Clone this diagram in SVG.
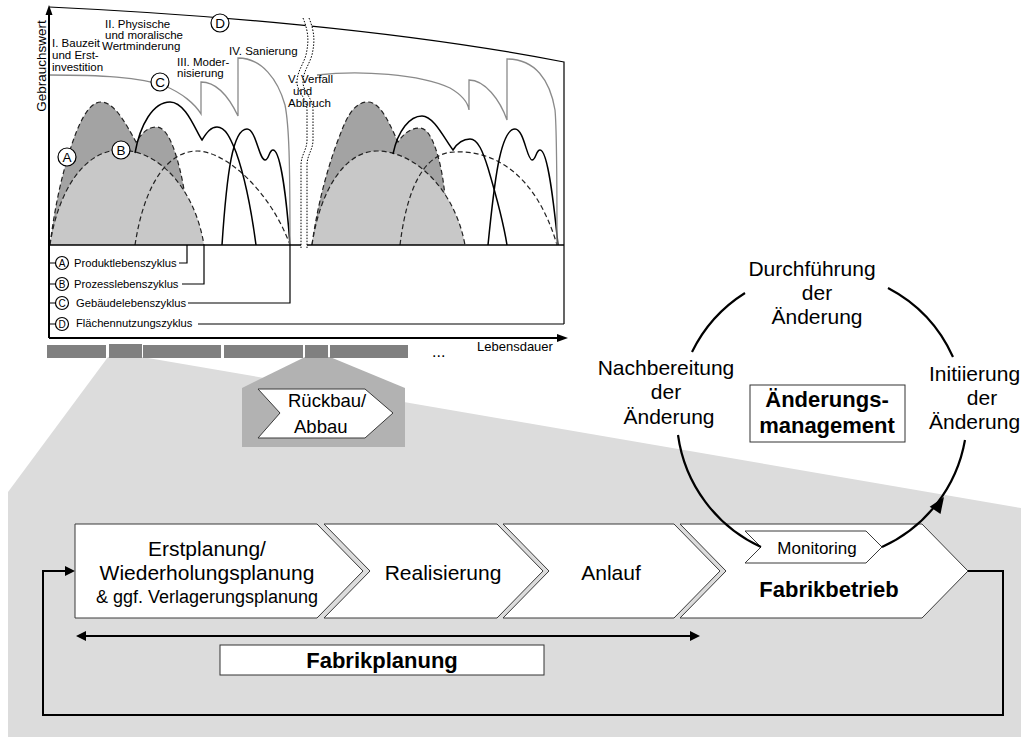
<svg xmlns="http://www.w3.org/2000/svg" width="1021" height="737" viewBox="0 0 1021 737">
<style>
text { font-family: "Liberation Sans", Arial, Helvetica, sans-serif; fill: #000; }
.lbl { font-size: 11.5px; }
.leg { font-size: 11.2px; }
.cl { font-size: 13.5px; text-anchor: middle; }
.cs { font-size: 10px; text-anchor: middle; }
.big { font-size: 21px; }
.bold { font-weight: bold; }
.mid { text-anchor: middle; }
.crv { fill: none; stroke: #000; stroke-width: 1.5; }
.dsh { fill: none; stroke: #222; stroke-width: 1.2; stroke-dasharray: 5 3; }
.bldg { fill: none; stroke: #8a8a8a; stroke-width: 1.3; }
.ln { fill: none; stroke: #000; stroke-width: 1.2; }
.step { fill: #fff; stroke: #3a3a3a; stroke-width: 1; }
.cyc { fill: none; stroke: #000; stroke-width: 2.2; }
.circ { fill: #fff; stroke: #000; stroke-width: 1.2; }
.bar { fill: #808080; }
.dot { fill: none; stroke: #000; stroke-width: 1; stroke-dasharray: 1.5 1.5; }
</style>

<!-- background fan from the timeline down to the process chain -->
<polygon id="fan" points="108,357 142,357 1021,508 1021,737 8,737 8,492" fill="#dcdcdc"/>
<polygon id="rueckbau-fan" points="305,357 330,357 405,388 405,447 242,447 242,388" fill="#b2b2b2"/>

<!-- ===== life-cycle chart ===== -->
<g id="chart">
  <!-- product (A) and process (B) areas, left cycle -->
  <path d="M50,245 C55,205 62,175 70,150 C78,125 88,102 101,102 C114,102 125,122 136,142 C142,133 148,127 156,127 C168,127 175,150 180,170 C185,190 188,215 189,245 Z" fill="#a3a3a3"/>
  <path class="dsh" d="M50,245 C55,205 62,175 70,150 C78,125 88,102 101,102 C114,102 125,122 136,142 C142,133 148,127 156,127 C168,127 175,150 180,170 C185,190 188,215 189,245"/>
  <path d="M50,245 C58,190 85,150 120,150 C160,150 195,190 204,245 Z" fill="#c8c8c8"/>
  <path class="dsh" d="M50,245 C58,190 85,150 120,150 C160,150 195,190 204,245"/>
  <path class="dsh" d="M135,245 C145,180 170,151 197,151 C225,151 270,190 290,245"/>
  <path class="crv" d="M135,153 C140,125 153,102 170,102 C186,102 196,132 202,140 C207,132 211,127 217,127 C226,127 231,140 236,152 C246,180 252,215 256,245"/>
  <path class="crv" d="M222,245 C227,170 233,129 247,129 C256,129 259,160 265,160 C269,160 269,150 273,150 C281,150 287,205 290,245"/>

  <!-- right cycle -->
  <path d="M312,245 C318,200 330,160 340,135 C348,113 356,102 368,102 C381,102 390,125 398,142 C404,133 411,128 420,128 C432,128 440,160 443,180 C446,200 447,220 447,245 Z" fill="#a3a3a3"/>
  <path class="dsh" d="M312,245 C318,200 330,160 340,135 C348,113 356,102 368,102 C381,102 390,125 398,142 C404,133 411,128 420,128 C432,128 440,160 443,180 C446,200 447,220 447,245"/>
  <path d="M312,245 C320,190 345,151 377,151 C415,151 455,190 465,245 Z" fill="#c8c8c8"/>
  <path class="dsh" d="M312,245 C320,190 345,151 377,151 C415,151 455,190 465,245"/>
  <path class="dsh" d="M400,245 C408,180 428,152 455,152 C490,150 535,170 557,245"/>
  <path class="crv" d="M393,154 C398,130 410,116 422,116 C434,116 445,140 453,150 C458,142 463,139 470,139 C478,139 483,152 488,168 C496,195 503,220 507,245"/>
  <path class="crv" d="M488,245 C494,185 500,129 515,129 C524,129 527,160 532,160 C536,160 536,150 540,150 C548,150 554,205 558,245"/>

  <!-- building life cycle (C) -->
  <path class="bldg" d="M49,75 C100,75 140,77 165,86 C182,93 195,104 201,114 V82 C215,82 228,95 238,116 V58 C262,58 278,80 285,105 C289,125 290,160 290,245"/>
  <path class="bldg" d="M317,75 C360,70 420,74 450,88 C462,95 468,103 469,110 V80 C485,80 500,100 507,120 V59 C535,59 550,80 555,110 C557,130 557,180 557,245"/>

  <!-- land use cycle (D) -->
  <path class="ln" d="M49,7 C200,14 400,30 564,62 V324"/>

  <!-- base line -->
  <line x1="49" y1="245" x2="564" y2="245" stroke="#000" stroke-width="1.4"/>

  <!-- break between the two building cycles -->
  <path d="M303,18 C310,35 308,45 306,55 C303,65 297,72 297,82 C297,92 307,98 307,110 L307,140 C307,150 301,155 301,165 L301,248 L307,248 L307,165 C307,155 313,150 313,140 L313,110 C313,98 303,92 303,82 C303,72 309,65 312,55 C314,45 316,35 309,18 Z" fill="#fff"/>
  <path class="dot" d="M303,18 C310,35 308,45 306,55 C303,65 297,72 297,82 C297,92 307,98 307,110 L307,140 C307,150 301,155 301,165 L301,248"/>
  <path class="dot" d="M309,18 C316,35 314,45 312,55 C309,65 303,72 303,82 C303,92 313,98 313,110 L313,140 C313,150 307,155 307,165 L307,248"/>

  <!-- axes -->
  <line x1="49" y1="338" x2="49" y2="14" stroke="#000" stroke-width="2"/>
  <polygon points="49,5 45.5,15 52.5,15"/>
  <line x1="49" y1="338" x2="558" y2="338" stroke="#000" stroke-width="2"/>
  <polygon points="568,338 557,334 557,342"/>

  <!-- curve markers -->
  <circle class="circ" cx="67" cy="157" r="9"/><text class="cl" x="67" y="162">A</text>
  <circle class="circ" cx="121" cy="150" r="9"/><text class="cl" x="121" y="155">B</text>
  <circle class="circ" cx="160" cy="82" r="9"/><text class="cl" x="160" y="87">C</text>
  <circle class="circ" cx="220" cy="23" r="9"/><text class="cl" x="220" y="28">D</text>

  <!-- phase labels -->
  <text class="lbl" x="52" y="47">I. Bauzeit</text>
  <text class="lbl" x="52" y="59">und Erst-</text>
  <text class="lbl" x="52" y="71">investition</text>
  <text class="lbl" x="105" y="28">II. Physische</text>
  <text class="lbl" x="105" y="39">und moralische</text>
  <text class="lbl" x="102" y="50">Wertminderung</text>
  <text class="lbl" x="177" y="66">III. Moder-</text>
  <text class="lbl" x="177" y="77">nisierung</text>
  <text class="lbl" x="229" y="55">IV. Sanierung</text>
  <text class="lbl" x="288" y="83">V. Verfall</text>
  <text class="lbl" x="293" y="95">und</text>
  <text class="lbl" x="288" y="107">Abbruch</text>

  <text font-size="13.5" text-anchor="middle" transform="translate(46,66) rotate(-90)">Gebrauchswert</text>
  <text font-size="13" x="477" y="351">Lebensdauer</text>
  <text font-size="16" x="432" y="357">...</text>
</g>

<!-- legend of the chart -->
<g id="legend">
  <path class="ln" d="M49,263 H56 M179,263 H187 V245"/>
  <path class="ln" d="M49,284 H56 M182,284 H204 V245"/>
  <path class="ln" d="M49,303 H56 M188,303 H290 V245"/>
  <path class="ln" d="M49,324 H56 M198,324 H564"/>
  <circle class="circ" cx="62" cy="263" r="6.5"/><text class="cs" x="62" y="266.5">A</text>
  <circle class="circ" cx="62" cy="284" r="6.5"/><text class="cs" x="62" y="287.5">B</text>
  <circle class="circ" cx="62" cy="303" r="6.5"/><text class="cs" x="62" y="306.5">C</text>
  <circle class="circ" cx="62" cy="324" r="6.5"/><text class="cs" x="62" y="327.5">D</text>
  <text class="leg" x="74" y="267">Produktlebenszyklus</text>
  <text class="leg" x="74" y="288">Prozesslebenszyklus</text>
  <text class="leg" x="76" y="307">Gebäudelebenszyklus</text>
  <text class="leg" x="76" y="327">Flächennutzungszyklus</text>
</g>

<!-- timeline segments -->
<g id="timeline">
  <rect class="bar" x="47" y="345" width="59" height="13"/>
  <rect class="bar" x="109" y="344" width="33" height="14"/>
  <rect class="bar" x="143" y="345" width="78" height="13"/>
  <rect class="bar" x="224" y="345" width="79" height="13"/>
  <rect class="bar" x="305" y="345" width="23" height="13"/>
  <rect class="bar" x="330" y="345" width="78" height="13"/>
</g>

<g id="rueckbau">
  <polygon class="step" points="258,389 365,389 393,413 365,438 258,438 280,413"/>
  <text font-size="18.5" x="288" y="407">Rückbau/</text>
  <text font-size="18.5" x="294" y="433">Abbau</text>
</g>

<!-- ===== process chain ===== -->
<g id="connectors">
  <path d="M968,571 H1003 V715 H43 V571 H66" fill="none" stroke="#000" stroke-width="2"/>
  <polygon points="75,571 65,566 65,576"/>
  <line x1="84" y1="636" x2="692" y2="636" stroke="#000" stroke-width="2"/>
  <polygon points="76,636 86,631 86,641"/>
  <polygon points="700,636 690,631 690,641"/>
</g>

<g id="step-planung">
  <polygon class="step" points="75,524 317,524 363,571 317,618 75,618"/>
  <text class="big mid" x="207" y="556">Erstplanung/</text>
  <text class="big mid" x="207" y="580">Wiederholungsplanung</text>
  <text class="mid" font-size="18" x="207" y="603">&amp; ggf. Verlagerungsplanung</text>
</g>
<g id="step-realisierung">
  <polygon class="step" points="324,524 497,524 543,571 497,618 324,618 370,571"/>
  <text class="big mid" x="443" y="580">Realisierung</text>
</g>
<g id="step-anlauf">
  <polygon class="step" points="503,524 674,524 720,571 674,618 503,618 549,571"/>
  <text class="big mid" x="611" y="580">Anlauf</text>
</g>
<g id="step-betrieb">
  <polygon class="step" points="680,524 922,524 968,571 922,618 680,618 726,571"/>
  <text class="bold mid" font-size="22" x="829" y="597">Fabrikbetrieb</text>
</g>
<g id="monitoring">
  <polygon class="step" points="745,531 866,531 882,547 866,563 745,563 761,547"/>
  <text class="mid" font-size="17" x="817" y="554">Monitoring</text>
</g>

<g id="fabrikplanung">
  <rect x="220" y="645" width="324" height="30" fill="#fff" stroke="#333" stroke-width="1"/>
  <text class="bold mid" font-size="22" x="382" y="668">Fabrikplanung</text>
</g>

<!-- ===== change management cycle ===== -->
<g id="cycle">
  <path class="cyc" d="M692,352 A145,145 0 0 1 745,293"/>
  <path class="cyc" d="M888,288 A145,145 0 0 1 953,357"/>
  <path class="cyc" d="M678,435 A145,145 0 0 0 761,547"/>
  <path class="cyc" d="M882,547 A145,145 0 0 0 965,440"/>
  <polygon points="944,497 940.5,513.9 929.7,506.7"/>
</g>

<g id="durchfuehrung">
  <text class="big mid" x="812" y="276">Durchführung</text>
  <text class="big mid" x="817" y="300">der</text>
  <text class="big mid" x="817" y="324">Änderung</text>
</g>
<g id="nachbereitung">
  <text class="big mid" x="666" y="375">Nachbereitung</text>
  <text class="big mid" x="666" y="399">der</text>
  <text class="big mid" x="669" y="424">Änderung</text>
</g>
<g id="initiierung">
  <text class="big" x="929" y="381">Initiierung</text>
  <text class="big mid" x="982" y="405">der</text>
  <text class="big" x="929" y="429">Änderung</text>
</g>
<g id="aenderungsmanagement">
  <rect x="750" y="385" width="155" height="57" fill="#fff" stroke="#333" stroke-width="1"/>
  <text class="bold mid" font-size="22" x="827" y="407">Änderungs-</text>
  <text class="bold mid" font-size="22" x="827" y="433">management</text>
</g>
</svg>
